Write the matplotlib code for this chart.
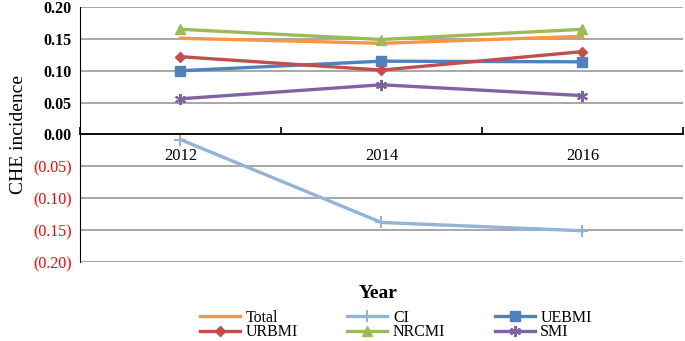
import matplotlib
matplotlib.use("Agg")
import matplotlib.pyplot as plt
from matplotlib.ticker import FixedLocator

plt.rcParams['font.family'] = ['Liberation Serif', 'DejaVu Serif']

years = ['2012', '2014', '2016']
total = [0.151, 0.143, 0.154]
ci = [-0.008, -0.138, -0.151]
uebmi = [0.100, 0.115, 0.114]
urbmi = [0.122, 0.101, 0.130]
nrcmi = [0.165, 0.149, 0.165]
smi = [0.056, 0.078, 0.061]

yticks = [0.20, 0.15, 0.10, 0.05, 0.00, -0.05, -0.10, -0.15, -0.20]

fig = plt.figure(figsize=(6.85, 3.41), dpi=100)
ax = fig.add_axes([0.1168, 0.2317, 0.8802, 0.7478])

x = list(range(len(years)))
lw = 2.4
l_total, = ax.plot(x, total, color='#F79646', lw=lw, label='Total')
l_ci, = ax.plot(x, ci, color='#95B3D7', lw=lw, marker='+', ms=8, mew=1.5, label='CI')
l_ue, = ax.plot(x, uebmi, color='#4F81BD', lw=lw, marker='s', ms=6.5, label='UEBMI')
l_ur, = ax.plot(x, urbmi, color='#C0504D', lw=lw, marker='D', ms=5.5, label='URBMI')
l_nr, = ax.plot(x, nrcmi, color='#9BBB59', lw=lw, marker='^', ms=7.5, label='NRCMI')
l_smi, = ax.plot(x, smi, color='#8064A2', lw=lw, marker=(6, 2, 0), ms=8, mew=1.5, label='SMI')

ax.set_xlim(-0.5, 2.5)
ax.set_ylim(-0.2, 0.2)
ax.set_yticks(yticks)
labels = []
for v in yticks:
    labels.append('%.2f' % v if v >= 0 else '(%.2f)' % abs(v))
ax.set_yticklabels(labels, fontsize=11.5, fontweight='bold')
for t, v in zip(ax.get_yticklabels(), yticks):
    if v < 0:
        t.set_color('#FF0000')
        t.set_fontweight('normal')
ax.tick_params(axis='y', length=0, pad=6)
ax.grid(axis='y', color='#A0A0A0', lw=1.3)
ax.set_axisbelow(True)

ax.spines['top'].set_visible(False)
ax.spines['right'].set_visible(False)
ax.spines['left'].set_color('black')
ax.spines['bottom'].set_position(('data', 0))
ax.spines['bottom'].set_linewidth(1.3)

ax.xaxis.set_major_locator(FixedLocator([-0.5, 0.5, 1.5, 2.5]))
ax.xaxis.set_minor_locator(FixedLocator(x))
ax.set_xticklabels([], minor=False)
ax.set_xticklabels(years, minor=True, fontsize=12)
ax.tick_params(axis='x', which='major', direction='in', length=5, width=1.2)
ax.tick_params(axis='x', which='minor', length=0, pad=10)

ax.set_ylabel('CHE incidence', fontsize=14, labelpad=4)
fig.text(0.552, 0.14, 'Year', fontsize=14, fontweight='bold', ha='center', va='center')

handles = [l_total, l_ur, l_ci, l_nr, l_ue, l_smi]
fig.legend(handles=handles, labels=[h.get_label() for h in handles], ncol=3,
           loc='upper center', bbox_to_anchor=(0.578, 0.115), frameon=False,
           fontsize=11.5, handlelength=2.5, columnspacing=3.1, handletextpad=0.35,
           labelspacing=-0.08, borderpad=0)

fig.savefig('out.png', dpi=100)
